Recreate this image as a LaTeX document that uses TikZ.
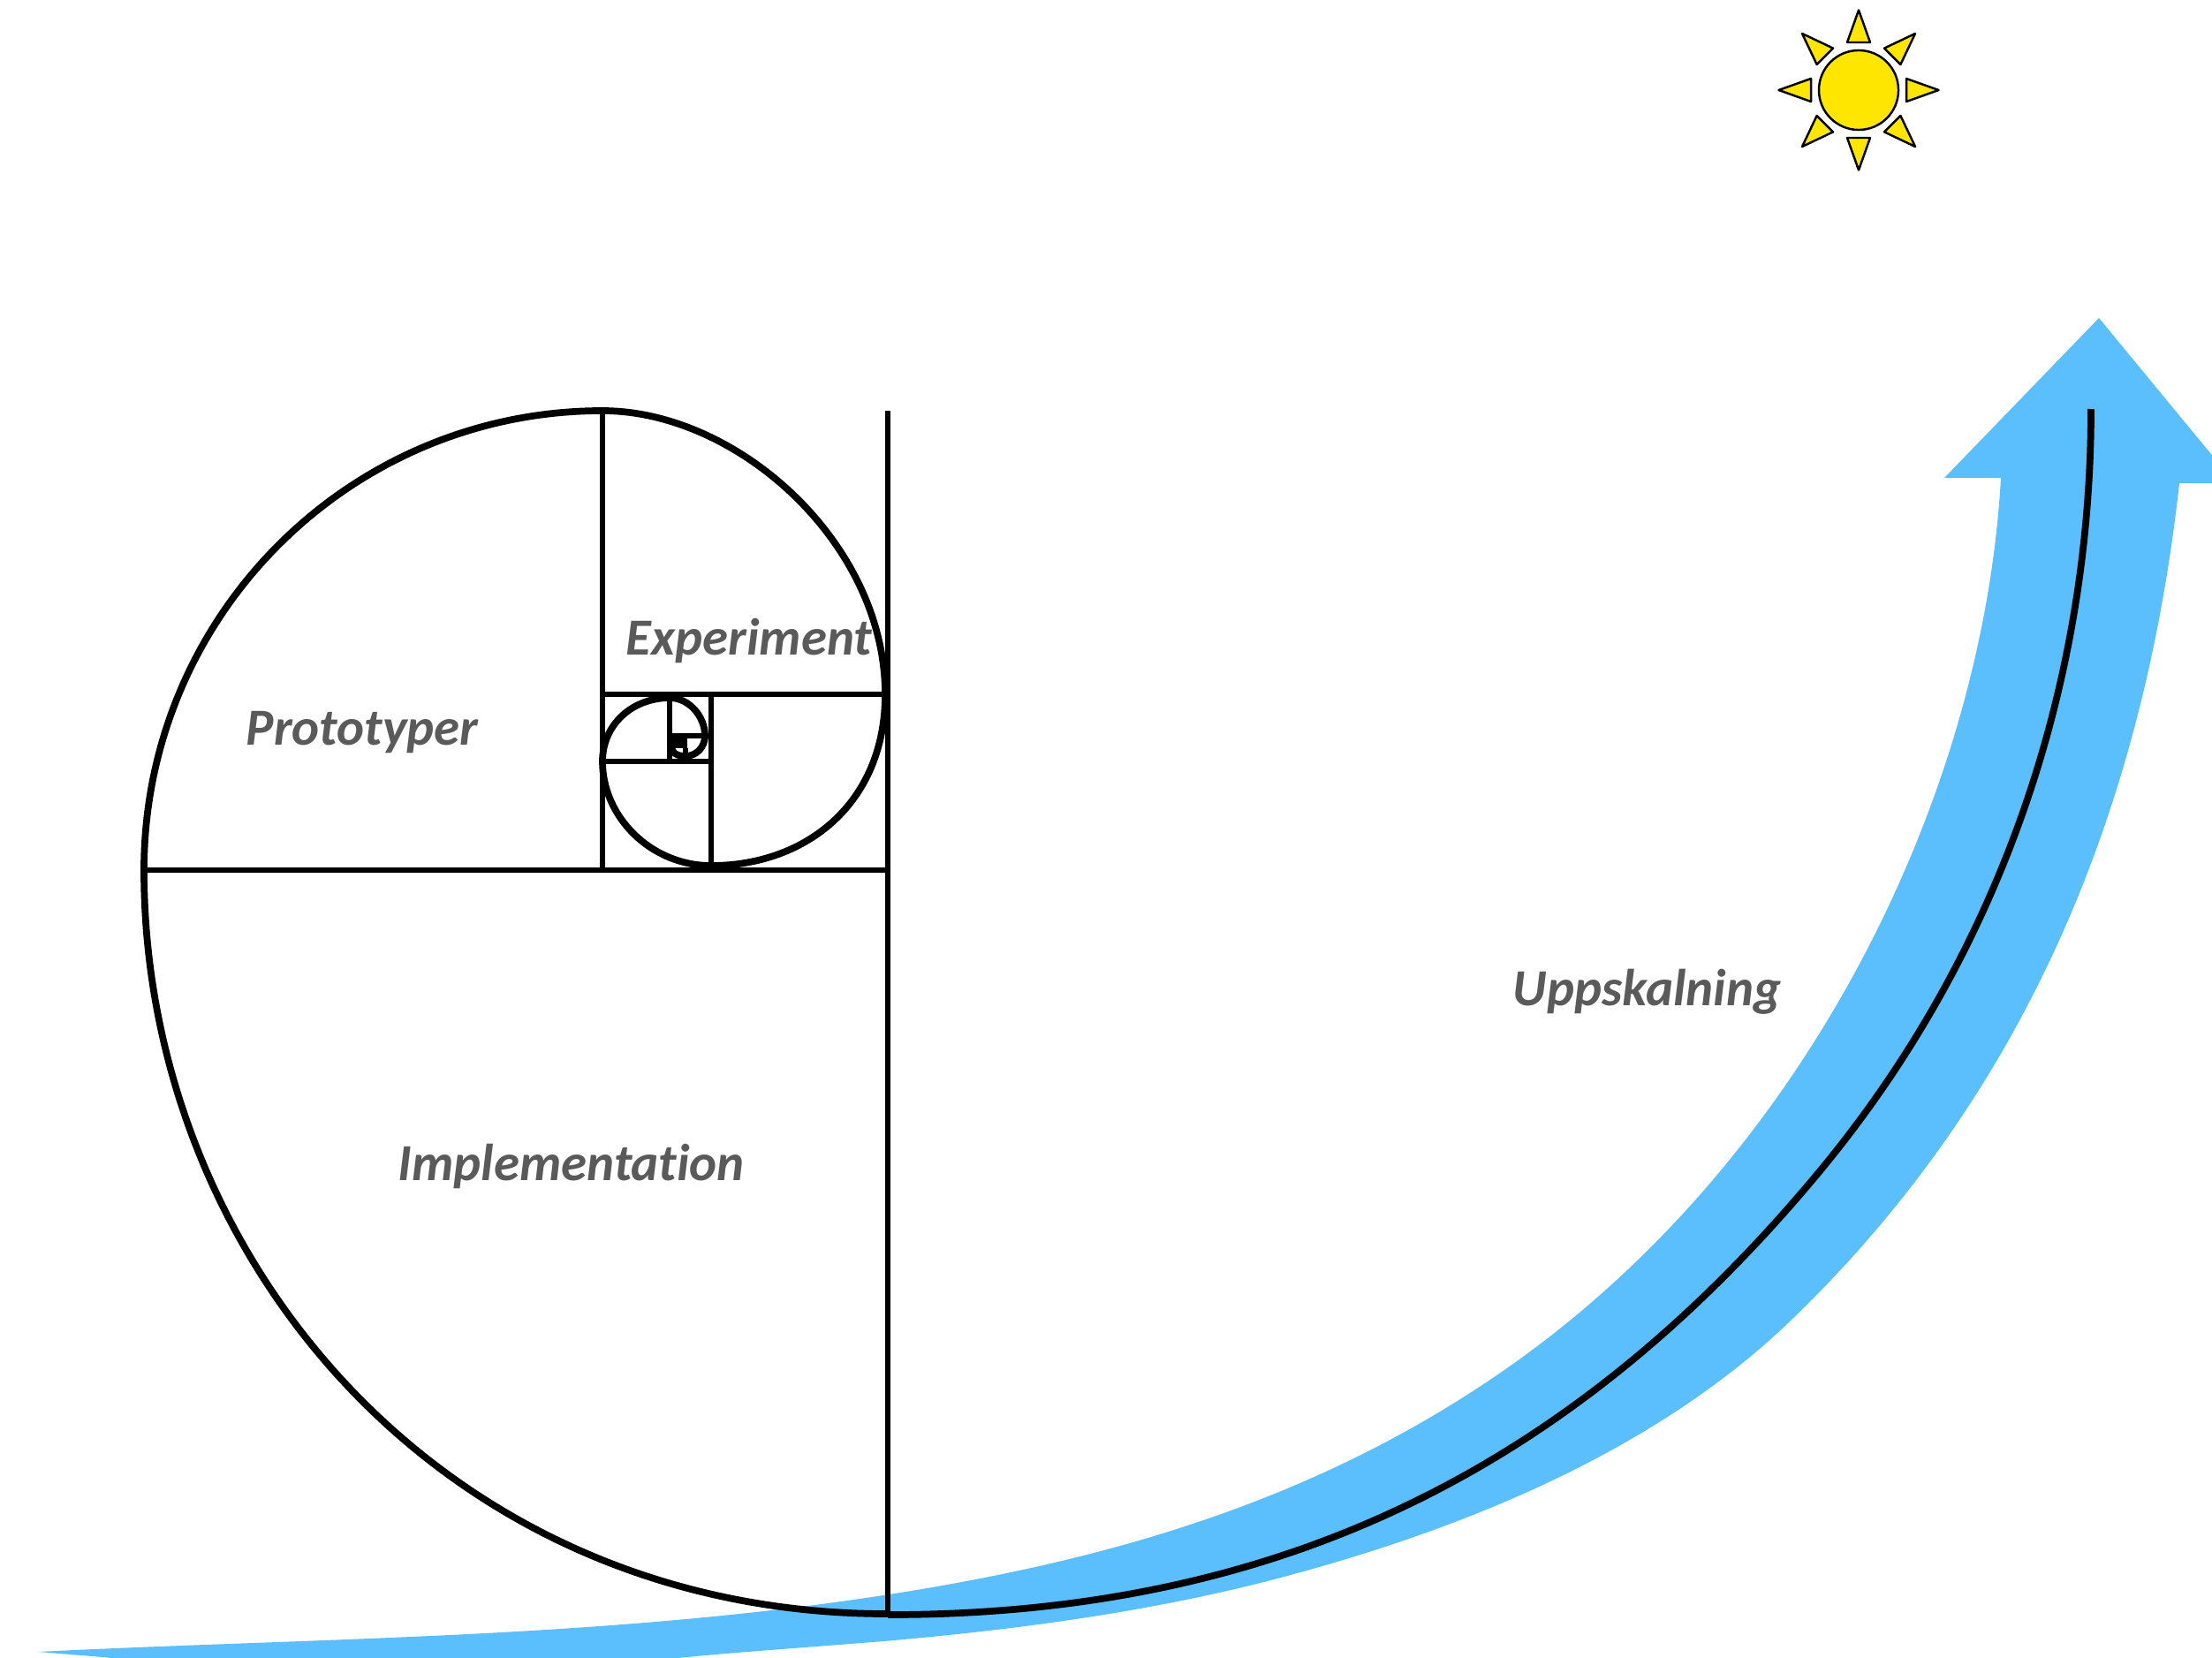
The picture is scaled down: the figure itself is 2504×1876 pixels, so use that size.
\documentclass[tikz,border=0pt]{standalone}
\usepackage{fontspec}
\setmainfont[Ligatures=NoCommon]{Carlito}
\definecolor{arrowblue}{HTML}{5ABFFC}
\definecolor{sunyellow}{HTML}{FFE600}
\definecolor{labelgray}{HTML}{5A5A5A}
\begin{document}
\begin{tikzpicture}[
    x=0.01cm, y=0.01cm, yscale=-1,
    grid/.style={line width=1.9pt, black},
    spiral/.style={line width=2.2pt, black},
    phase/.style={anchor=base west, inner sep=0pt, text=labelgray,
                  font=\fontsize{16.75}{20}\selectfont\bfseries\itshape},
    sunbody/.style={circle, draw=black, line width=0.7pt, fill=sunyellow,
                    minimum size=0.9cm, inner sep=0pt},
    sunray/.style={draw=black, line width=0.7pt, fill=sunyellow, line join=round}
  ]

  \useasboundingbox (0,0) rectangle (2504,1876);
  \clip (0,0) rectangle (2504,1876);

  % The broad arrow, running off the page at the bottom and the right.
  \fill[arrowblue] (43,1870)
    .. controls (363,1854) and (680,1855) .. (1000,1806)
    .. controls (1240,1769) and (1480,1705) .. (1700,1553)
    .. controls (2045,1315) and (2245,900) .. (2265,541)
    -- (2201,541) -- (2376,360) -- (2530,547) -- (2467,547)
    .. controls (2423,943) and (2277,1255) .. (2025,1497)
    .. controls (1870,1645) and (1654,1732) .. (1446,1787)
    .. controls (1301,1825) and (1150,1845) .. (1000,1858)
    .. controls (900,1866) and (840,1870) .. (777,1876)
    .. controls (600,1893) and (300,1895) .. (117,1876)
    -- cycle;

  % Growth curve on top of it.
  \draw[spiral] (1005,1828)
    .. controls (1455,1828) and (1784,1658) .. (2059,1327)
    .. controls (2283,1057) and (2367,743) .. (2367,463);

  % Squares of the spiral.
  \draw[grid] (1005,465) -- (1005,1828);
  \draw[grid] (163,985) -- (1005,985);
  \draw[grid] (682,465) -- (682,985);
  \draw[grid] (682,786) -- (1002,786);
  \draw[grid] (805,786) -- (805,985);
  \draw[grid] (682,862) -- (805,862);
  \draw[grid] (758,786) -- (758,862);
  \draw[grid] (758,833) -- (805,833);
  \draw[grid] (776,847) -- (776,862);
  \fill (758,833) rectangle (778,847);

  % One path, quarter after quarter, not quite round.
  \draw[spiral] (1005,1827)
    .. controls (500,1827) and (163,1423) .. (163,985)
    .. controls (163,698) and (395,465) .. (682,465)
    .. controls (835,465) and (1002,615) .. (1002,786)
    .. controls (1002,909) and (913,980) .. (805,980)
    .. controls (737,980) and (682,925) .. (682,862)
    .. controls (682,820) and (716,790) .. (758,790)
    .. controls (780,790) and (798,811) .. (798,833)
    .. controls (798,846) and (788,856) .. (776,856)
    .. controls (766,856) and (760,852) .. (760,845);

  \node[phase] (exp) at (708,741)  {Experiment};
  \node[phase] (pro) at (278,843)  {Prototyper};
  \node[phase] (imp) at (450,1336) {Implementation};
  \node[phase] (upp) at (1712,1138) {Uppskalning};

  % Sun in the top corner.
  \node[sunbody] (sun) at (2104,102) {};
  \foreach \ang in {0,45,...,315}
    \draw[sunray, shift={(2104,102)}, rotate=\ang]
      (90.5,0) -- (54,13) -- (54,-13) -- cycle;

\end{tikzpicture}
\end{document}
